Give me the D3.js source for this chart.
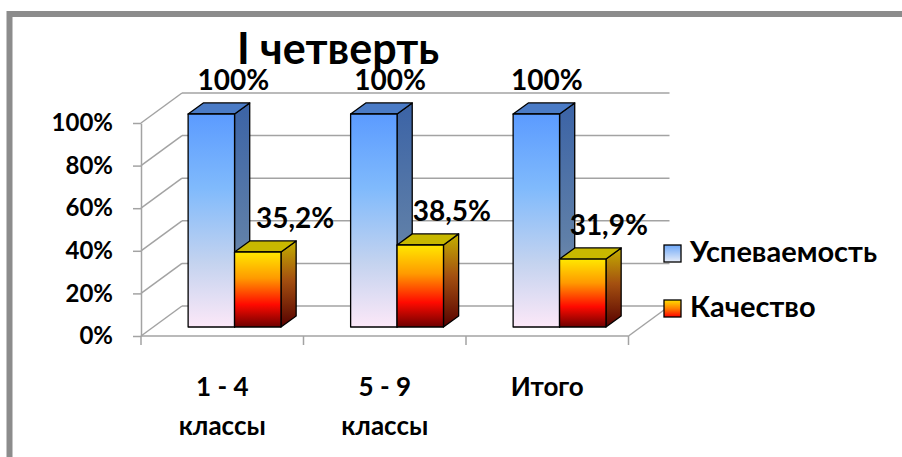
<!DOCTYPE html>
<meta charset="utf-8">
<style>
body { margin: 0; background: #fff; overflow: hidden; }
svg { display: block; font-family: Lato, 'Open Sans', sans-serif; font-weight: bold; }
</style>
<body>
<script src="https://d3js.org/d3.v7.min.js"></script>
<script>
var title = 'I четверть'
var categories = [['1 - 4', 'классы'], ['5 - 9', 'классы'], ['Итого']]
var seriesNames = ['Успеваемость', 'Качество']
var uspevaemost = [100, 100, 100]
var kachestvo = [35.2, 38.5, 31.9]
var yTicks = [0, 20, 40, 60, 80, 100]

var width = 902
var height = 457
var depthX = 41, depthY = -30   // back wall offset
var barZ = [0.3, 0.67]          // bars sit in the middle of the depth

var ru = d3.formatLocale({ decimal: ',', thousands: ' ', grouping: [3], currency: ['', ''] })
function pct(v) { return (v % 1 ? ru.format('.1f')(v) : v) + '%' }

var x = d3.scaleBand().domain(d3.range(categories.length)).range([141, 628.5])
var xs = d3.scaleBand().domain(seriesNames).range([0, x.bandwidth()]).paddingOuter(0.75)
var y = d3.scaleLinear().domain([0, 100]).range([336, 123])

function pt(px, py, z) { return [px + z * depthX, py + z * depthY] }

var svg = d3.select('body').append('svg')
    .attr('width', width)
    .attr('height', height)

var defs = svg.append('defs')
function grad(id, stops) {
    var g = defs.append('linearGradient').attr('id', id)
        .attr('x1', 0).attr('y1', 0).attr('x2', 0).attr('y2', 1)
    stops.forEach(function (s) {
        g.append('stop').attr('offset', s[0]).attr('stop-color', s[1])
    })
}
grad('blue-front', [[0, '#5b9bff'], [0.35, '#80bafc'], [0.7, '#c4d3ef'], [1, '#fce8f8']])
grad('blue-side', [[0, '#3b63a6'], [0.6, '#5f7fa8'], [1, '#8d9ab0']])
grad('orange-front', [[0, '#ffe800'], [0.35, '#ff9a00'], [0.7, '#ff0a00'], [1, '#6e0000']])
grad('orange-side', [[0, '#c4b000'], [0.45, '#a45010'], [1, '#560000']])
grad('blue-key', [[0, '#6ea8f8'], [1, '#e6ecf8']])
grad('orange-key', [[0, '#ffe000'], [0.5, '#ff8000'], [1, '#ff0000']])

var looks = {
    'Успеваемость': { front: 'url(#blue-front)', side: 'url(#blue-side)', top: '#4a7bc6', key: 'url(#blue-key)', off: 22 },
    'Качество': { front: 'url(#orange-front)', side: 'url(#orange-side)', top: '#c8b800', key: 'url(#orange-key)', off: 39 }
}

// frame, running off the right and bottom edges
svg.append('rect')
    .attr('x', 9.5).attr('y', 14)
    .attr('width', width + 40).attr('height', height + 40)
    .attr('fill', 'none')
    .attr('stroke', '#8c8c8c')
    .attr('stroke-width', 6)

var x0 = x.range()[0], x1 = x.range()[1]
var grid = svg.append('g')
    .attr('stroke', '#a3a3a3')
    .attr('stroke-width', 1.5)
    .attr('fill', 'none')

var line = d3.line()
yTicks.forEach(function (t) {
    grid.append('path').attr('d', line([pt(x0, y(t), 1), pt(x1, y(t), 1)]))
    grid.append('path').attr('d', line([pt(x0, y(t), 0), pt(x0, y(t), 1)]))
})
grid.append('path').attr('d', line([pt(x0, y(0), 0), pt(x1, y(0), 0)]))
grid.append('path').attr('d', line([pt(x1, y(0), 0), pt(x1, y(0), 1)]))
x.domain().concat([categories.length]).forEach(function (i) {
    var px = i < categories.length ? x(i) : x1
    grid.append('path').attr('d', line([[px, y(0)], [px, y(0) + 9]]))
})

// value axis
var yAxis = svg.append('g')
    .attr('transform', 'translate(' + x0 + ',0)')
    .call(d3.axisLeft(y).tickValues(yTicks).tickFormat(function (d) { return d + '%' })
        .tickSize(8).tickSizeOuter(0).tickPadding(20))
yAxis.selectAll('path, line').attr('stroke', '#a3a3a3').attr('stroke-width', 1.5)
yAxis.selectAll('text')
    .attr('fill', '#000')
    .style('font-size', '24px')
    .style('font-family', 'Lato, sans-serif')
    .style('font-weight', 'bold')

// bars
var bars = []
categories.forEach(function (c, i) {
    bars.push({ i: i, s: seriesNames[0], v: uspevaemost[i] })
    bars.push({ i: i, s: seriesNames[1], v: kachestvo[i] })
})

var barG = svg.selectAll('.bar')
    .data(bars)
    .enter().append('g')
    .attr('class', 'bar')
    .attr('stroke', '#000')
    .attr('stroke-width', 1.3)
    .attr('stroke-linejoin', 'round')

barG.each(function (d) {
    var g = d3.select(this)
    var a = x(d.i) + xs(d.s), b = a + xs.bandwidth()
    var top = y(d.v), base = y(0)
    var z0 = barZ[0], z1 = barZ[1]
    var look = looks[d.s]
    g.append('path')
        .attr('d', line([pt(b, top, z0), pt(b, top, z1), pt(b, base, z1), pt(b, base, z0)]) + 'Z')
        .attr('fill', look.side)
    g.append('path')
        .attr('d', line([pt(a, top, z0), pt(b, top, z0), pt(b, top, z1), pt(a, top, z1)]) + 'Z')
        .attr('fill', look.top)
    var f = pt(a, top, z0)
    g.append('rect')
        .attr('x', f[0]).attr('y', f[1])
        .attr('width', b - a).attr('height', base - top)
        .attr('fill', look.front)
})

// value labels
svg.selectAll('.value')
    .data(bars)
    .enter().append('text')
    .attr('class', 'value')
    .attr('text-anchor', 'middle')
    .attr('x', function (d) {
        var cx = x(d.i) + xs(d.s) + xs.bandwidth() / 2 + barZ[0] * depthX
        return cx + looks[d.s].off - 0.035 * (cx - 211)
    })
    .attr('y', function (d) { return y(d.v) + barZ[0] * depthY - 24 })
    .style('font-size', '28px')
    .text(function (d) { return pct(d.v) })

// category labels
var catG = svg.selectAll('.cat')
    .data(categories)
    .enter().append('text')
    .attr('class', 'cat')
    .attr('text-anchor', 'middle')
    .attr('x', function (d, i) { return x(i) + x.bandwidth() / 2 })
    .attr('y', 396)
    .style('font-size', '26px')
catG.selectAll('tspan')
    .data(function (d) { return d })
    .enter().append('tspan')
    .attr('x', function () { return d3.select(this.parentNode).attr('x') })
    .attr('dy', function (d, k) { return k ? 39 : 0 })
    .text(function (d) { return d })

// title
svg.append('text')
    .attr('x', 338).attr('y', 64)
    .attr('text-anchor', 'middle')
    .style('font-size', '43px')
    .text(title)

// legend
var legend = svg.selectAll('.key')
    .data(seriesNames)
    .enter().append('g')
    .attr('class', 'key')
    .attr('transform', function (d, i) { return 'translate(664,' + (245 + i * 55) + ')' })
legend.append('rect')
    .attr('width', 17).attr('height', 17)
    .attr('fill', function (d) { return looks[d].key })
    .attr('stroke', '#000')
    .attr('stroke-width', 1.3)
legend.append('text')
    .attr('x', 26).attr('y', 17)
    .style('font-size', '29px')
    .text(function (d) { return d })
</script>
</body>
